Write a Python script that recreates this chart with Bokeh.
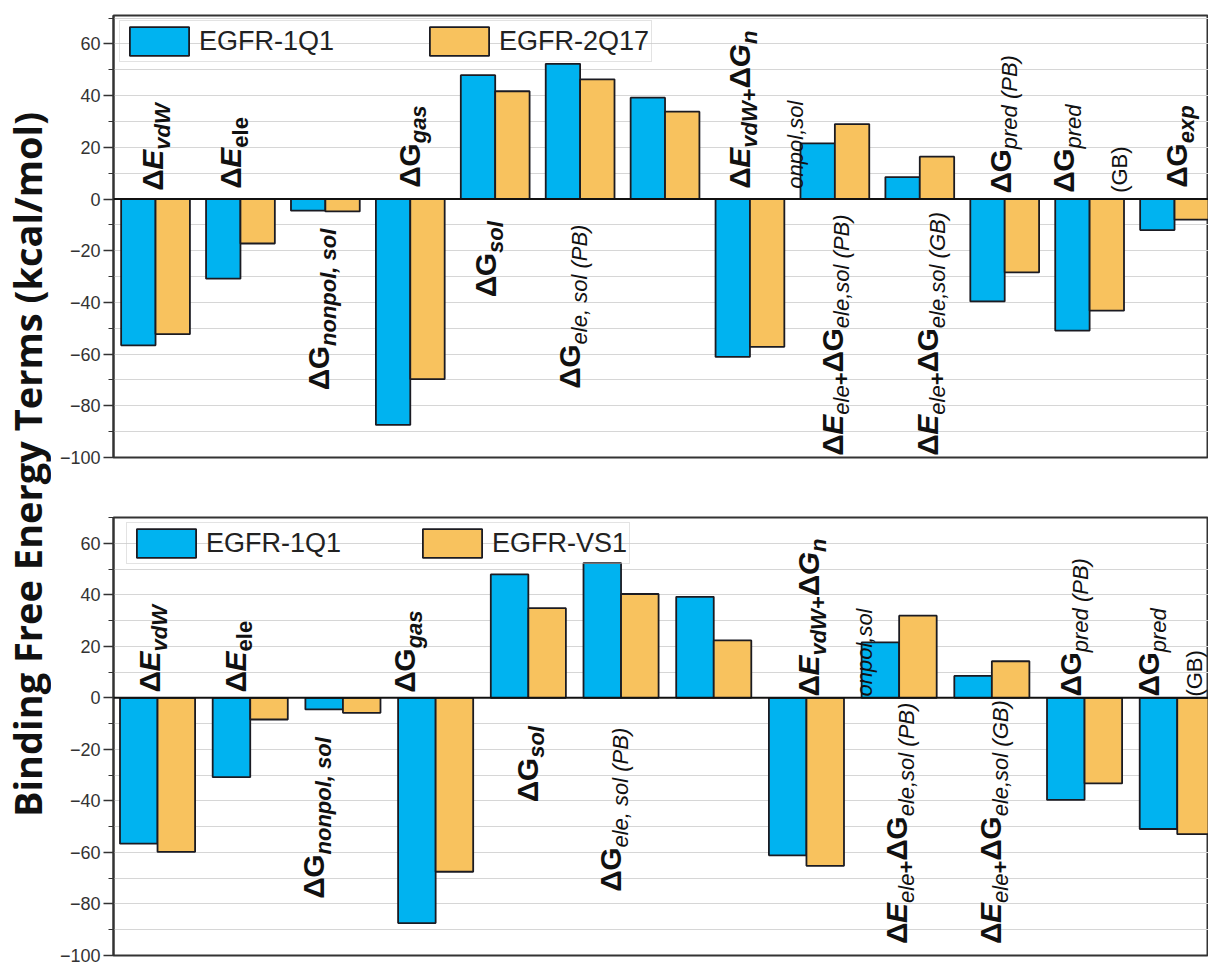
import math

from bokeh.core.properties import value
from bokeh.embed import file_html
from bokeh.layouts import column, row
from bokeh.models import (ColumnDataSource, CustomJSTickFormatter, FixedTicker,
                          Legend, LegendItem, Range1d, Span)
from bokeh.plotting import figure
from bokeh.resources import INLINE
from bokeh.transform import dodge

# ---------------------------------------------------------------- data
terms = [
    "dE_vdW", "dE_ele", "dG_nonpol_sol", "dG_gas", "dG_sol",
    "dG_ele_sol_PB", "dG_ele_sol_GB", "dE_vdW+dG_nonpol_sol",
    "dE_ele+dG_ele_sol_PB", "dE_ele+dG_ele_sol_GB",
    "dG_pred_PB", "dG_pred_GB", "dG_exp",
]
egfr_1q1 = [-56.6, -30.8, -4.5, -87.4, 47.9, 52.3, 39.2, -61.1, 21.5, 8.5,
            -39.6, -50.9, -12.0]
egfr_2q17 = [-52.3, -17.2, -4.8, -69.7, 41.7, 46.3, 33.8, -57.2, 29.0, 16.4,
             -28.4, -43.2, -8.0]
egfr_vs1 = [-59.8, -8.4, -5.8, -67.5, 34.8, 40.3, 22.3, -65.2, 31.9, 14.2,
            -33.2, -52.9]

major_ticks = [-100, -80, -60, -40, -20, 0, 20, 40, 60]
minor_ticks = [-90, -70, -50, -30, -10, 10, 30, 50, 70]

# ---------------------------------------------------------------- styling
BLUE = "#00B3F0"
ORANGE = "#F8C25E"
EDGE = "#1b1b22"
FONT = "Liberation Sans"
BAR_W = 0.405
TITLE_W = 51      # width of the strip holding the shared y title
PANEL_W = 1157
LEFT_BORDER = 62  # room for the y axis of each panel

# piece roles: (font size px, font style, baseline shift px)
ROLES = {
    "M": (30, "bold", 0),
    "MI": (30, "bold italic", 0),
    "S": (22, "bold italic", 7),
    "SU": (22, "bold", 7),
    "SN": (22, "italic", 7),
    "SR": (22, "normal", 7),
}
MID = 0.35  # distance from text-box centre to baseline, in em

# Arial-metric advance widths (em)
W_REG = {" ": .278, "(": .333, ")": .333, ",": .278, "+": .584, "a": .556,
         "d": .556, "e": .556, "g": .556, "l": .222, "n": .556, "o": .556,
         "p": .556, "r": .333, "s": .5, "x": .5, "v": .5, "W": .944,
         "P": .667, "B": .667, "G": .778, "E": .667, "Δ": .668}
W_BOLD = {" ": .278, "(": .333, ")": .333, ",": .278, "+": .584, "a": .556,
          "d": .611, "e": .556, "g": .611, "l": .278, "n": .611, "o": .611,
          "p": .611, "r": .389, "s": .556, "x": .556, "v": .556, "W": .944,
          "P": .667, "B": .722, "G": .778, "E": .667, "Δ": .70}


def text_width(s, size, style):
    table = W_BOLD if "bold" in style else W_REG
    return sum(table.get(c, .6) for c in s) * size


# category labels, each a list of lines; a line is a list of (text, role)
LABELS = {
    "dE_vdW": [[("Δ", "M"), ("E", "MI"), ("vdW", "S")]],
    "dE_ele": [[("Δ", "M"), ("E", "MI"), ("ele", "SU")]],
    "dG_nonpol_sol": [[("Δ", "M"), ("G", "M"), ("nonpol, sol", "S")]],
    "dG_gas": [[("Δ", "M"), ("G", "M"), ("gas", "S")]],
    "dG_sol": [[("Δ", "M"), ("G", "M"), ("sol", "S")]],
    "dG_ele_sol_PB": [[("Δ", "M"), ("G", "M"), ("ele, sol (PB)", "SN")]],
    "dE_vdW+dG_nonpol_sol": [[("Δ", "M"), ("E", "MI"), ("vdW", "S"),
                              ("+", "SU"), ("Δ", "M"), ("G", "MI"),
                              ("n", "S")],
                             [("onpol,sol", "SN")]],
    "dE_ele+dG_ele_sol_PB": [[("Δ", "M"), ("E", "MI"), ("ele", "SN"),
                              ("+", "SU"), ("Δ", "M"), ("G", "M"),
                              ("ele,sol (PB)", "SN")]],
    "dE_ele+dG_ele_sol_GB": [[("Δ", "M"), ("E", "MI"), ("ele", "SN"),
                              ("+", "SU"), ("Δ", "M"), ("G", "M"),
                              ("ele,sol (GB)", "SN")]],
    "dG_pred_PB": [[("Δ", "M"), ("G", "M"), ("pred (PB)", "SN")]],
    "dG_pred_GB": [[("Δ", "M"), ("G", "M"), ("pred", "SN")],
                   [("(GB)", "SR")]],
    "dG_exp": [[("Δ", "M"), ("G", "M"), ("exp", "S")]],
}
WRAP_DX = 46  # px between wrapped label columns

# label placement per panel:
# term -> (shift in category units, start value[, wrapped-column gap px])
PLACE_TOP = {
    "dE_vdW": (0.09, 3.2), "dE_ele": (0.01, 4.0),
    "dG_nonpol_sol": (0.04, -74.0), "dG_gas": (0.11, 4.4),
    "dG_sol": (0.01, -38.0), "dG_ele_sol_PB": (0.0, -73.4),
    "dE_vdW+dG_nonpol_sol": (0.0, 4.0),
    "dE_ele+dG_ele_sol_PB": (0.09, -99.3),
    "dE_ele+dG_ele_sol_GB": (0.22, -99.3),
    "dG_pred_PB": (0.07, 2.1), "dG_pred_GB": (-0.18, 2.4),
    "dG_exp": (0.15, 4.4),
}
PLACE_BOTTOM = {
    "dE_vdW": (0.03, 2.1), "dE_ele": (-0.05, 2.1),
    "dG_nonpol_sol": (-0.2, -78.0), "dG_gas": (-0.22, 2.0),
    "dG_sol": (0.1, -40.5), "dG_ele_sol_PB": (0.0, -75.3),
    "dE_vdW+dG_nonpol_sol": (0.14, 0.5),
    "dE_ele+dG_ele_sol_PB": (0.09, -95.5),
    "dE_ele+dG_ele_sol_GB": (0.1, -95.5),
    "dG_pred_PB": (-0.04, 0.5), "dG_pred_GB": (-0.2, 0.5, 36),
}

# tick labels with a typographic minus sign
MINUS_FORMAT = CustomJSTickFormatter(
    code="return tick < 0 ? '\\u2212' + Math.abs(tick) : String(tick);")


def draw_labels(p, placement):
    for k, term in enumerate(terms):
        if term not in placement or term not in LABELS:
            continue
        spec = placement[term]
        shift, start = spec[0], spec[1]
        wrap = spec[2] if len(spec) > 2 else WRAP_DX
        xc = k + 1 + shift
        for li, line in enumerate(LABELS[term]):
            acc = 0.0
            for txt, role in line:
                size, style, drop = ROLES[role]
                p.text(x=[xc], y=[start], text=[txt], angle=math.pi / 2,
                       x_offset=li * wrap + drop - MID * size,
                       y_offset=-acc,
                       text_font=value(FONT), text_font_size=f"{size}px",
                       text_font_style=style, text_align="left",
                       text_baseline="middle", text_color="#111111")
                acc += text_width(txt, size, style)


def panel(height, x_range, y_top, series_a, series_b, name_b,
          placement, border_top, border_bottom, legend_xy, spacing):
    n = len(series_b)
    src = ColumnDataSource(dict(pos=list(range(1, n + 1)),
                                a=series_a[:n], b=series_b))
    p = figure(width=PANEL_W, height=height, x_range=Range1d(*x_range),
               y_range=Range1d(-100, y_top), toolbar_location=None,
               output_backend="svg", min_border_left=LEFT_BORDER,
               min_border_right=0, min_border_top=border_top,
               min_border_bottom=border_bottom)
    p.background_fill_color = "white"
    p.border_fill_color = "white"
    p.outline_line_color = "#333333"
    p.outline_line_width = 2
    p.xaxis.visible = False
    p.xgrid.visible = False

    ax = p.yaxis[0]
    ax.ticker = FixedTicker(ticks=major_ticks, minor_ticks=minor_ticks)
    ax.formatter = MINUS_FORMAT
    ax.axis_line_color = "#333333"
    ax.axis_line_width = 2
    ax.major_tick_out = 10
    ax.major_tick_in = 0
    ax.minor_tick_out = 5
    ax.minor_tick_in = 0
    ax.major_tick_line_color = "#333333"
    ax.minor_tick_line_color = "#333333"
    ax.major_tick_line_width = 1.5
    ax.major_label_text_font = FONT
    ax.major_label_text_font_size = "18px"
    ax.major_label_text_color = "#333333"
    ax.major_label_standoff = 3

    p.ygrid.grid_line_color = "#d6d6d6"
    p.ygrid.minor_grid_line_color = "#d6d6d6"
    p.ygrid.grid_line_width = 1

    ra = p.vbar(x=dodge("pos", -BAR_W / 2), top="a", width=BAR_W, source=src,
                fill_color=BLUE, line_color=EDGE, line_width=1.8)
    rb = p.vbar(x=dodge("pos", BAR_W / 2), top="b", width=BAR_W, source=src,
                fill_color=ORANGE, line_color=EDGE, line_width=1.8)
    p.add_layout(Span(location=0, dimension="width", line_color="#111111",
                      line_width=2))

    draw_labels(p, placement)

    legend = Legend(items=[LegendItem(label="EGFR-1Q1", renderers=[ra]),
                           LegendItem(label=name_b, renderers=[rb])],
                    orientation="horizontal", location=legend_xy, margin=0,
                    padding=2, spacing=spacing, glyph_width=74,
                    glyph_height=36, label_standoff=3, label_height=29,
                    label_text_font=FONT, label_text_font_size="27px",
                    label_text_color="#222222", border_line_color="#c8c8c8",
                    border_line_width=1, background_fill_alpha=0)
    p.add_layout(legend)
    return p


top = panel(467, (0.505, 13.40), 71, egfr_1q1, egfr_2q17, "EGFR-2Q17",
            PLACE_TOP, 15, 10, (6, 395), 88)
bottom = panel(498, (0.525, 12.337), 70, egfr_1q1, egfr_vs1,
               "EGFR-VS1", PLACE_BOTTOM, 50, 10, (13, 391), 74)

# shared vertical title
title = figure(width=TITLE_W, height=965, x_range=Range1d(0, TITLE_W),
               y_range=Range1d(0, 965), toolbar_location=None,
               output_backend="svg", min_border=0)
title.axis.visible = False
title.grid.visible = False
title.outline_line_color = None
title.text(x=[26], y=[501], text=["Binding Free Energy Terms (kcal/mol)"],
           angle=math.pi / 2, text_align="center", text_baseline="middle",
           text_font=value("Open Sans"), text_font_size="38px",
           text_font_style="bold", text_color="#111111")

layout = row(title, column(top, bottom))
open("out.html", "w").write(file_html(layout, INLINE))
